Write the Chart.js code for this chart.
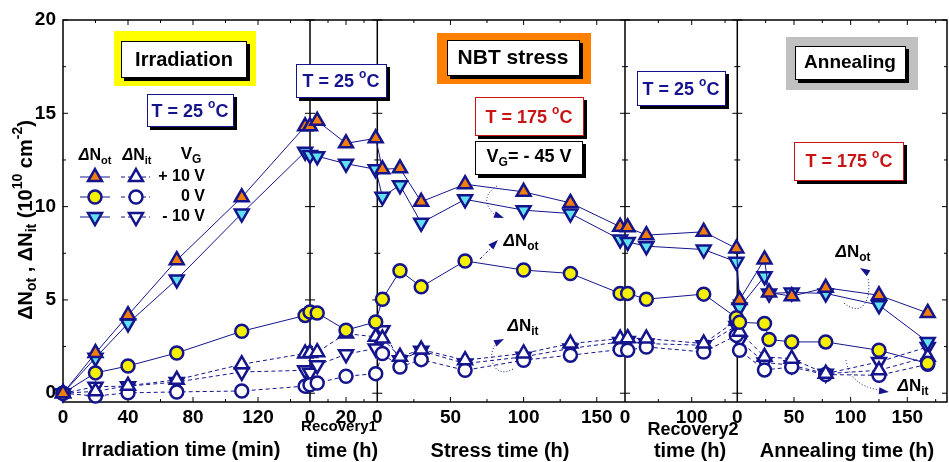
<!DOCTYPE html>
<html>
<head>
<meta charset="utf-8">
<script src="https://cdn.jsdelivr.net/npm/chart.js@4/dist/chart.umd.min.js"></script>
<style>
  html, body { margin: 0; padding: 0; background: #fff; }
</style>
</head>
<body>
<canvas id="main-chart" width="949" height="462"></canvas>
<script>
/* global Chart */

// sampling times of every phase
const irrTime = [0, 20, 40, 70, 110, 149];           // min
const rec1Time = [0, 4, 20, 36.5];                    // h
const stressTime = [3.5, 15.5, 30, 60, 100, 132, 166]; // h
const rec2Time = [4, 32, 118, 167];                   // h
const annealTime = [2, 24, 28, 48, 78, 125, 168];     // h

// dNot, VG = +10 V
const irrNotP10 = [0, 2.15, 4.18, 7.13, 10.5, 14.3];
const rec1NotP10 = [14.3, 14.6, 13.39, 13.66];
const stressNotP10 = [12.0, 12.05, 10.26, 11.2, 10.79, 10.2, 8.92];
const rec2NotP10 = [8.89, 8.47, 8.65, 7.76];
const annealNotP10 = [5.0, 7.17, 5.4, 5.2, 5.65, 5.25, 4.3];
// dNot, VG = 0 V
const irrNot0 = [0, 1.09, 1.46, 2.16, 3.32, 4.17];
const rec1Not0 = [4.35, 4.3, 3.38, 3.82];
const stressNot0 = [5.04, 6.56, 5.7, 7.09, 6.6, 6.42, 5.35];
const rec2Not0 = [5.35, 5.04, 5.31, 4.05];
const annealNot0 = [3.8, 3.74, 2.88, 2.75, 2.75, 2.3, 1.6];
// dNot, VG = -10 V
const irrNotM10 = [0, 1.9, 3.74, 6.1, 9.63, 12.94];
const rec1NotM10 = [12.76, 12.7, 12.3, 12.0];
const stressNotM10 = [10.53, 11.15, 9.13, 10.39, 9.81, 9.63, 8.24];
const rec2NotM10 = [8.11, 7.88, 7.7, 7.04];
const annealNotM10 = [4.6, 6.27, 5.35, 5.4, 5.35, 4.72, 2.75];
// dNit, VG = +10 V
const irrNitP10 = [0, 0.1, 0.4, 0.72, 1.55, 2.13];
const rec1NitP10 = [2.15, 2.2, 3.2, 3.02];
const stressNitP10 = [2.93, 1.95, 2.34, 1.77, 2.13, 2.66, 2.93];
const rec2NitP10 = [2.95, 2.93, 2.66, 3.9];
const annealNitP10 = [3.3, 1.95, null, 1.85, 1.05, 1.23, 1.95];
// dNit, VG = 0 V
const irrNit0 = [0, -0.15, 0.02, 0.07, 0.12, 0.38];
const rec1Nit0 = [0.45, 0.55, 0.91, 1.05];
const stressNit0 = [2.13, 1.41, 1.8, 1.23, 1.77, 2.04, 2.34];
const rec2Nit0 = [2.3, 2.48, 2.21, 3.1];
const annealNit0 = [2.3, 1.25, null, 1.4, 1.0, 0.96, 1.55];
// dNit, VG = -10 V
const irrNitM10 = [0, 0.35, 0.38, 0.6, 1.14, 1.23];
const rec1NitM10 = [1.1, 1.5, 2.09, 2.4];
const stressNitM10 = [3.38, 1.77, 2.27, 1.59, 1.95, 2.4, 2.75];
const rec2NitM10 = [2.8, 2.66, 2.57, 3.6];
const annealNitM10 = [2.8, 1.65, null, 1.5, 1.05, 1.68, 2.48];

// axis tick labels of every phase
const irrTicks = [0, 40, 80, 120];
const rec1Ticks = [0, 20];
const stressTicks = [0, 50, 100, 150];
const rec2Ticks = [0, 100];
const annealTicks = [0, 50, 100, 150];
const yTicks = [0, 5, 10, 15, 20];

// layout of the broken x axis (start of each phase, units per time step)
const segStart = [0, 247, 314.3, 562, 674.3];
const segScale = [1.625, 1.8, 1.463, 0.667, 1.1335];
const segMinor = [20, 10, 25, 50, 25];
const xMax = 884;
const segEnd = segStart.slice(1).concat([xMax]);
const segTimes = [irrTime, rec1Time, stressTime, rec2Time, annealTime];
const segTicks = [irrTicks, rec1Ticks, stressTicks, rec2Ticks, annealTicks];

const BLUE = '#14148c';
const ORANGE = '#f57d0a';
const YELLOW = '#f5f000';
const CYAN = '#5fe3f2';
const RED = '#c81414';
const FONT = "'Liberation Sans', Arial, sans-serif";
Chart.defaults.font.family = FONT;

function segX(s, t) {
  return segStart[s] + t * segScale[s];
}

function toPoints(lists) {
  const pts = [];
  lists.forEach((vals, s) => {
    vals.forEach((v, i) => {
      if (v !== null) pts.push({x: segX(s, segTimes[s][i]), y: v});
    });
  });
  return pts;
}

function mkSet(label, lists, style, rot, fill, dash, radius) {
  return {
    label: label,
    data: toPoints(lists),
    borderColor: BLUE,
    borderWidth: 1,
    borderDash: dash,
    pointStyle: style,
    pointRotation: rot,
    pointRadius: radius,
    pointHoverRadius: radius,
    pointBackgroundColor: fill,
    pointBorderColor: BLUE,
    pointBorderWidth: 2.5,
    fill: false,
    tension: 0,
    clip: false
  };
}

const xTickPos = [];
const xTickText = [];
segTicks.forEach((list, s) => list.forEach(t => {
  xTickPos.push(segX(s, t));
  xTickText.push(String(t));
}));

// ---- drawing helpers ----
function rich(ctx, parts, cx, cy, size, color) {
  const fontFor = k => {
    const sz = (k === 'sub' || k === 'sup') ? Math.round(size * 0.68) : size;
    return (k === 'it' ? 'italic ' : '') + 'bold ' + sz + 'px ' + FONT;
  };
  let total = 0;
  parts.forEach(p => { ctx.font = fontFor(p[1]); total += ctx.measureText(p[0]).width; });
  let x = cx - total / 2;
  ctx.fillStyle = color;
  ctx.textAlign = 'left';
  ctx.textBaseline = 'middle';
  parts.forEach(p => {
    ctx.font = fontFor(p[1]);
    let dy = 0;
    if (p[1] === 'sub') dy = size * 0.32;
    if (p[1] === 'sup') dy = -size * 0.38;
    ctx.fillText(p[0], x, cy + dy);
    x += ctx.measureText(p[0]).width;
  });
}

function shadowBox(ctx, x, y, w, h, stroke) {
  ctx.fillStyle = '#000';
  ctx.fillRect(x + 3, y + 3, w, h);
  ctx.fillStyle = '#fff';
  ctx.fillRect(x, y, w, h);
  ctx.strokeStyle = stroke;
  ctx.lineWidth = 1;
  ctx.strokeRect(x + 0.5, y + 0.5, w - 1, h - 1);
}

function marker(ctx, style, rot, x, y, r, fill) {
  ctx.beginPath();
  if (style === 'circle') {
    ctx.arc(x, y, r, 0, Math.PI * 2);
  } else {
    let rad = rot * Math.PI / 180;
    for (let k = 0; k < 3; k++) {
      const px = x + Math.sin(rad) * r;
      const py = y - Math.cos(rad) * r;
      if (k === 0) ctx.moveTo(px, py); else ctx.lineTo(px, py);
      rad += Math.PI * 2 / 3;
    }
    ctx.closePath();
  }
  ctx.fillStyle = fill;
  ctx.fill();
  ctx.lineWidth = 2.5;
  ctx.strokeStyle = BLUE;
  ctx.stroke();
}

function arrowHead(ctx, x, y, ang) {
  ctx.save();
  ctx.translate(x, y);
  ctx.rotate(ang);
  ctx.beginPath();
  ctx.moveTo(0, 0);
  ctx.lineTo(-10, -3.5);
  ctx.lineTo(-10, 3.5);
  ctx.closePath();
  ctx.fillStyle = BLUE;
  ctx.fill();
  ctx.restore();
}

const framePlugin = {
  id: 'frame',
  beforeDatasetsDraw(chart) {
    const {ctx, chartArea: a, scales: {x, y}} = chart;
    ctx.save();
    const divs = segStart.slice(1).map(v => x.getPixelForValue(v));
    ctx.strokeStyle = '#000';
    ctx.lineWidth = 1.5;
    ctx.strokeRect(a.left, a.top, a.right - a.left, a.bottom - a.top);
    ctx.beginPath();
    divs.forEach(px => { ctx.moveTo(px, a.top); ctx.lineTo(px, a.bottom); });
    ctx.stroke();
    ctx.lineWidth = 1;
    ctx.beginPath();
    for (let v = 0; v <= 20; v += 2.5) {
      const py = y.getPixelForValue(v);
      const len = v % 5 === 0 ? 5 : 3;
      ctx.moveTo(a.left, py); ctx.lineTo(a.left + len, py);
      ctx.moveTo(a.right, py); ctx.lineTo(a.right - len, py);
      divs.forEach(px => { ctx.moveTo(px - len, py); ctx.lineTo(px + len, py); });
    }
    segMinor.forEach((step, s) => {
      for (let t = step; segX(s, t) < segEnd[s] - 2; t += step) {
        const px = x.getPixelForValue(segX(s, t));
        const len = segTicks[s].includes(t) ? 5 : 3;
        ctx.moveTo(px, a.bottom); ctx.lineTo(px, a.bottom - len);
        ctx.moveTo(px, a.top); ctx.lineTo(px, a.top + len);
      }
    });
    ctx.stroke();
    ctx.restore();
  },
  afterDatasetsDraw(chart) {
    const ctx = chart.ctx;
    ctx.save();

    // y title
    ctx.save();
    ctx.translate(26, 220);
    ctx.rotate(-Math.PI / 2);
    rich(ctx, [['\u0394N', ''], ['ot', 'sub'], [' , \u0394N', ''], ['it', 'sub'],
      [' (10', ''], ['10', 'sup'], [' cm', ''], ['-2', 'sup'], [')', '']], 0, 0, 20, '#000');
    ctx.restore();

    // x titles
    rich(ctx, [['Irradiation time (min)', '']], 181, 450, 20, '#000');
    rich(ctx, [['Recovery1', '']], 339, 427, 15, '#000');
    rich(ctx, [['time (h)', '']], 342, 451, 20, '#000');
    rich(ctx, [['Stress time (h)', '']], 500, 451, 20, '#000');
    rich(ctx, [['Recovery2', '']], 693, 430, 18, '#000');
    rich(ctx, [['time (h)', '']], 690, 451, 20, '#000');
    rich(ctx, [['Annealing time (h)', '']], 847, 451, 20, '#000');

    // phase labels
    ctx.fillStyle = '#ffff00';
    ctx.fillRect(114, 31, 142, 55);
    shadowBox(ctx, 121, 41, 126, 37, '#000');
    rich(ctx, [['Irradiation', '']], 184, 60, 20, '#000');

    ctx.fillStyle = '#ff8000';
    ctx.fillRect(437, 33, 154, 51);
    shadowBox(ctx, 447, 40, 133, 36, '#000');
    rich(ctx, [['NBT stress', '']], 513, 58, 21, '#000');

    ctx.fillStyle = '#c0c0c0';
    ctx.fillRect(786, 37, 132, 53);
    shadowBox(ctx, 795, 46, 111, 34, '#000');
    rich(ctx, [['Annealing', '']], 850, 63, 19, '#000');

    // temperature boxes
    const t25 = [['T = 25 ', ''], ['o', 'sup'], ['C', '']];
    const t175 = [['T = 175 ', ''], ['o', 'sup'], ['C', '']];
    shadowBox(ctx, 147, 94, 87, 33, BLUE);
    rich(ctx, t25, 190, 112, 18, BLUE);
    shadowBox(ctx, 296, 64, 91, 34, BLUE);
    rich(ctx, t25, 341, 82, 18, BLUE);
    shadowBox(ctx, 637, 71, 89, 35, BLUE);
    rich(ctx, t25, 681, 90, 18, BLUE);
    shadowBox(ctx, 475, 97, 109, 39, RED);
    rich(ctx, t175, 529, 118, 18, RED);
    shadowBox(ctx, 794, 142, 110, 39, RED);
    rich(ctx, t175, 849, 162, 18, RED);
    shadowBox(ctx, 475, 141, 108, 34, '#000');
    rich(ctx, [['V', ''], ['G', 'sub'], ['= - 45 V', '']], 529, 157, 18, '#000');

    // legend
    rich(ctx, [['\u0394', 'it'], ['N', ''], ['ot', 'sub']], 95, 156, 16, '#000');
    rich(ctx, [['\u0394', 'it'], ['N', ''], ['it', 'sub']], 137, 156, 16, '#000');
    rich(ctx, [['V', ''], ['G', 'sub']], 191, 154, 17, '#000');
    const rows = [
      {y: 177, style: 'triangle', rot: 0, fill: ORANGE, r: 8, text: '+ 10 V'},
      {y: 197, style: 'circle', rot: 0, fill: YELLOW, r: 6.5, text: '0 V'},
      {y: 217, style: 'triangle', rot: 180, fill: CYAN, r: 8, text: '- 10 V'}
    ];
    rows.forEach(row => {
      ctx.strokeStyle = BLUE;
      ctx.lineWidth = 1;
      ctx.setLineDash([]);
      ctx.beginPath(); ctx.moveTo(80, row.y); ctx.lineTo(110, row.y); ctx.stroke();
      ctx.setLineDash([4, 3]);
      ctx.beginPath(); ctx.moveTo(121, row.y); ctx.lineTo(150, row.y); ctx.stroke();
      ctx.setLineDash([]);
      marker(ctx, row.style, row.rot, 95, row.y, row.r, row.fill);
      marker(ctx, row.style, row.rot, 136, row.y, row.r, '#fff');
      ctx.font = 'bold 16px ' + FONT;
      ctx.fillStyle = '#000';
      ctx.textAlign = 'right';
      ctx.textBaseline = 'middle';
      ctx.fillText(row.text, 205, row.y);
    });

    // pointer labels
    const not = [['\u0394', 'it'], ['N', ''], ['ot', 'sub']];
    const nit = [['\u0394', 'it'], ['N', ''], ['it', 'sub']];
    rich(ctx, not, 521, 241, 17, '#000');
    rich(ctx, nit, 523, 326, 17, '#000');
    rich(ctx, not, 853, 252, 17, '#000');
    rich(ctx, nit, 913, 386, 17, '#000');

    ctx.strokeStyle = BLUE;
    ctx.lineWidth = 1;
    ctx.setLineDash([3, 2, 1, 2]);
    ctx.beginPath(); ctx.moveTo(480, 259); ctx.lineTo(493, 246); ctx.stroke();
    ctx.setLineDash([1, 2]);
    ctx.beginPath(); ctx.moveTo(497, 186); ctx.quadraticCurveTo(478, 198, 494, 214); ctx.stroke();
    ctx.beginPath(); ctx.moveTo(513, 369); ctx.bezierCurveTo(494, 380, 486, 356, 496, 344); ctx.stroke();
    ctx.beginPath(); ctx.moveTo(844, 303); ctx.bezierCurveTo(862, 318, 872, 300, 868, 278); ctx.stroke();
    ctx.beginPath(); ctx.moveTo(846, 360); ctx.quadraticCurveTo(850, 386, 880, 390); ctx.stroke();
    ctx.setLineDash([]);
    arrowHead(ctx, 498, 240, -Math.PI / 4);
    arrowHead(ctx, 504, 218, 0.35);
    arrowHead(ctx, 504, 339, -0.45);
    arrowHead(ctx, 860, 268, -2.6);
    arrowHead(ctx, 889, 392, 0.12);
    ctx.restore();
  }
};

const mainChart = new Chart(document.getElementById('main-chart'), {
  type: 'line',
  data: {
    datasets: [
      mkSet('dNot +10 V', [irrNotP10, rec1NotP10, stressNotP10, rec2NotP10, annealNotP10], 'triangle', 0, ORANGE, [], 8),
      mkSet('dNot 0 V', [irrNot0, rec1Not0, stressNot0, rec2Not0, annealNot0], 'circle', 0, YELLOW, [], 6.5),
      mkSet('dNot -10 V', [irrNotM10, rec1NotM10, stressNotM10, rec2NotM10, annealNotM10], 'triangle', 180, CYAN, [], 8),
      mkSet('dNit +10 V', [irrNitP10, rec1NitP10, stressNitP10, rec2NitP10, annealNitP10], 'triangle', 0, '#fff', [4, 3], 8),
      mkSet('dNit 0 V', [irrNit0, rec1Nit0, stressNit0, rec2Nit0, annealNit0], 'circle', 0, '#fff', [4, 3], 6.5),
      mkSet('dNit -10 V', [irrNitM10, rec1NitM10, stressNitM10, rec2NitM10, annealNitM10], 'triangle', 180, '#fff', [4, 3], 8)
    ]
  },
  options: {
    responsive: false,
    animation: false,
    layout: {autoPadding: false, padding: {left: 0, right: 2, top: 20, bottom: 0}},
    plugins: {
      legend: {display: false},
      tooltip: {enabled: false}
    },
    scales: {
      x: {
        type: 'linear',
        min: 0,
        max: xMax,
        grid: {display: false, drawTicks: false},
        border: {display: false},
        afterBuildTicks: scale => { scale.ticks = xTickPos.map(v => ({value: v})); },
        afterFit: scale => {
          scale.height = 60;
          scale.paddingLeft = 0;
          scale.paddingRight = 0;
        },
        ticks: {
          autoSkip: false,
          maxRotation: 0,
          minRotation: 0,
          padding: 4,
          color: '#000',
          font: {size: 19, weight: 'bold'},
          callback: (v, i) => xTickText[i]
        }
      },
      y: {
        min: -0.47,
        max: 20,
        grid: {display: false, drawTicks: false},
        border: {display: false},
        afterBuildTicks: scale => { scale.ticks = yTicks.map(v => ({value: v})); },
        afterFit: scale => {
          scale.width = 63;
          scale.paddingTop = 0;
          scale.paddingBottom = 0;
        },
        ticks: {
          padding: 7,
          color: '#000',
          font: {size: 19, weight: 'bold'}
        }
      }
    }
  },
  plugins: [framePlugin]
});
</script>
</body>
</html>
